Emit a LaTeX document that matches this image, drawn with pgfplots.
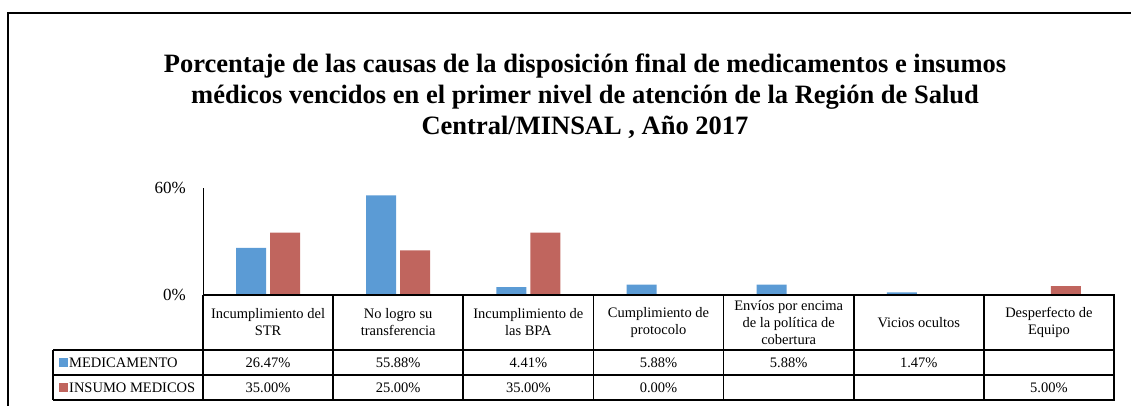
\documentclass[border=0pt]{standalone}
\usepackage{pgfplots}
\pgfplotsset{compat=1.18}
\usepackage{pgfplotstable}
\usepackage{fontspec}
\setmainfont{Liberation Serif}
\definecolor{medblue}{HTML}{5B9BD5}
\definecolor{insred}{HTML}{C0655E}
\pgfplotstableread{
x med ins
0 26.47 35.00
1 55.88 25.00
2 4.41 35.00
3 5.88 0.00
4 5.88 nan
5 1.47 nan
6 nan 5.00
}\datatable
\begin{document}
\begin{tikzpicture}[x=1pt,y=1pt]
\path[use as bounding box] (0,0) rectangle (1131,-406);
\draw[line width=1.5pt] (8,-406) -- (8,-13) -- (1131,-13);
\node[font=\bfseries\fontsize{26.5}{31}\selectfont, align=center] at (585,-96)
{Porcentaje de las causas de la disposición final de medicamentos e insumos\\
médicos vencidos en el primer nivel de atención de la Región de Salud\\
Central/MINSAL , Año 2017};
\begin{axis}[
  at={(203pt,-295pt)}, anchor=south west,
  scale only axis, width=911pt, height=107pt,
  xmin=-0.5, xmax=6.5, ymin=0, ymax=60,
  axis x line=none, axis y line=left,
  y axis line style={-, line width=1pt},
  xtick=\empty,
  ytick={0,60}, yticklabels={0\%,60\%},
  major tick length=0pt,
  yticklabel style={font=\fontsize{17}{20}\selectfont, inner sep=0pt, xshift=-17pt},
  ybar=4pt, bar width=30pt,
  unbounded coords=jump,
  clip=false,
]
\addplot[fill=medblue, draw=none] table[x=x, y=med] {\datatable};
\addplot[fill=insred, draw=none] table[x=x, y=ins] {\datatable};
\end{axis}
% data table
\begin{scope}[line width=1.6pt]
\draw (203,-295) -- (1114.5,-295);
\draw (53,-350) -- (1114.5,-350);
\draw (53,-375) -- (1114.5,-375);
\draw (53,-400) -- (1114.5,-400);
\draw (53,-350) -- (53,-400);
\foreach \k in {0,...,7} {
  \draw ({203+130.143*\k},-295) -- ({203+130.143*\k},-400);
}
\end{scope}
\begin{scope}[font=\fontsize{14.5}{17}\selectfont]
\foreach \k/\t in {0/{Incumplimiento del\\STR},1/{No logro su\\transferencia},2/{Incumplimiento de\\las BPA},3/{Cumplimiento de\\protocolo},4/{Envíos por encima\\de la política de\\cobertura},5/{Vicios ocultos},6/{Desperfecto de\\Equipo}} {
  \node[align=center, inner sep=0pt] at ({268.07+130.143*\k},-322.5) {\t};
}
\foreach \k/\t in {0/26.47\%,1/55.88\%,2/4.41\%,3/5.88\%,4/5.88\%,5/1.47\%} {
  \node[inner sep=0pt] at ({268.07+130.143*\k},-362.5) {\t};
}
\foreach \k/\t in {0/35.00\%,1/25.00\%,2/35.00\%,3/0.00\%,6/5.00\%} {
  \node[inner sep=0pt] at ({268.07+130.143*\k},-387.5) {\t};
}
\fill[medblue] (59,-358) rectangle (68,-367);
\fill[insred] (59,-383) rectangle (68,-392);
\node[anchor=west, inner sep=0pt] at (69,-362.5) {MEDICAMENTO};
\node[anchor=west, inner sep=0pt] at (69,-387.5) {INSUMO MEDICOS};
\end{scope}
\end{tikzpicture}
\end{document}
